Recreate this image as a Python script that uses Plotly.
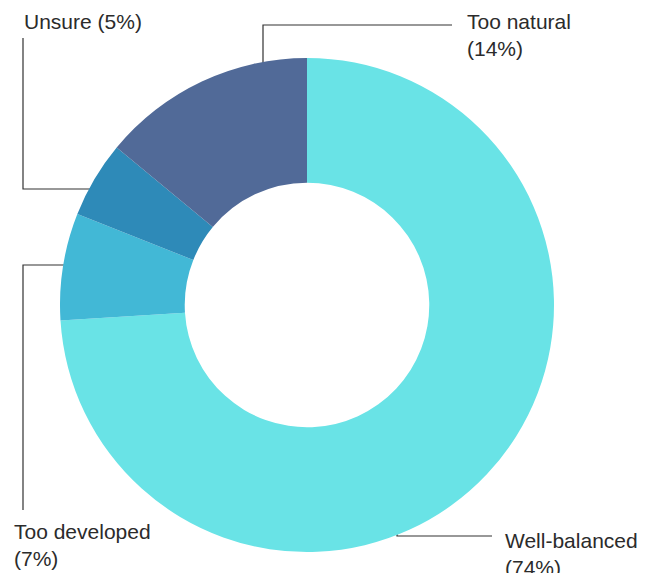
import plotly.graph_objects as go

labels = ["Well-balanced", "Too developed", "Unsure", "Too natural"]
values = [74, 7, 5, 14]
colors = ["#69E3E6", "#42B8D6", "#2E8AB8", "#516A98"]
label_texts = ["Well-balanced<br>(74%)", "Too developed<br>(7%)", "Unsure (5%)", "Too natural<br>(14%)"]

W, H = 657, 573
O = 8  # page body margin offset
cx, cy, R = 307, 305, 247

fig = go.Figure()
fig.add_trace(go.Pie(
    labels=labels, values=values, sort=False, direction="clockwise", rotation=0,
    hole=0.495, marker=dict(colors=colors, line=dict(width=0)),
    textinfo="none", hoverinfo="label+percent", showlegend=False,
    domain=dict(x=[(cx - O - R) / W, (cx - O + R) / W],
                y=[1 - (cy - O + R) / H, 1 - (cy - O - R) / H]),
))

# leader lines (page pixel coordinates on hidden axes)
leaders = [
    [(397, 468), (397, 536), (492, 536)],
    [(97, 265), (23, 265), (23, 510)],
    [(109, 189), (23, 189), (23, 38)],
    [(263, 100), (263, 25), (452, 25)],
]
text_pos = [(503, 527), (12, 518), (22, 8), (465, 8)]

for pts in leaders:
    xs = [p[0] for p in pts]
    ys = [p[1] for p in pts]
    fig.add_trace(go.Scatter(x=xs, y=ys, mode="lines", line=dict(color="#333333", width=1.2),
                             hoverinfo="skip", showlegend=False))

for t, (x, y) in zip(label_texts, text_pos):
    fig.add_annotation(x=x, y=y, xref="x", yref="y", text=t, showarrow=False,
                       xanchor="left", yanchor="top", align="left",
                       font=dict(family="Liberation Sans, Arial, sans-serif", size=21, color="#2b2b2b"))

fig.update_xaxes(range=[O, W + O], visible=False, fixedrange=True)
fig.update_yaxes(range=[H + O, O], visible=False, fixedrange=True)
fig.update_layout(width=W, height=H, margin=dict(l=0, r=0, t=0, b=0),
                  paper_bgcolor="white", plot_bgcolor="rgba(0,0,0,0)")

fig.write_html("out.html")
